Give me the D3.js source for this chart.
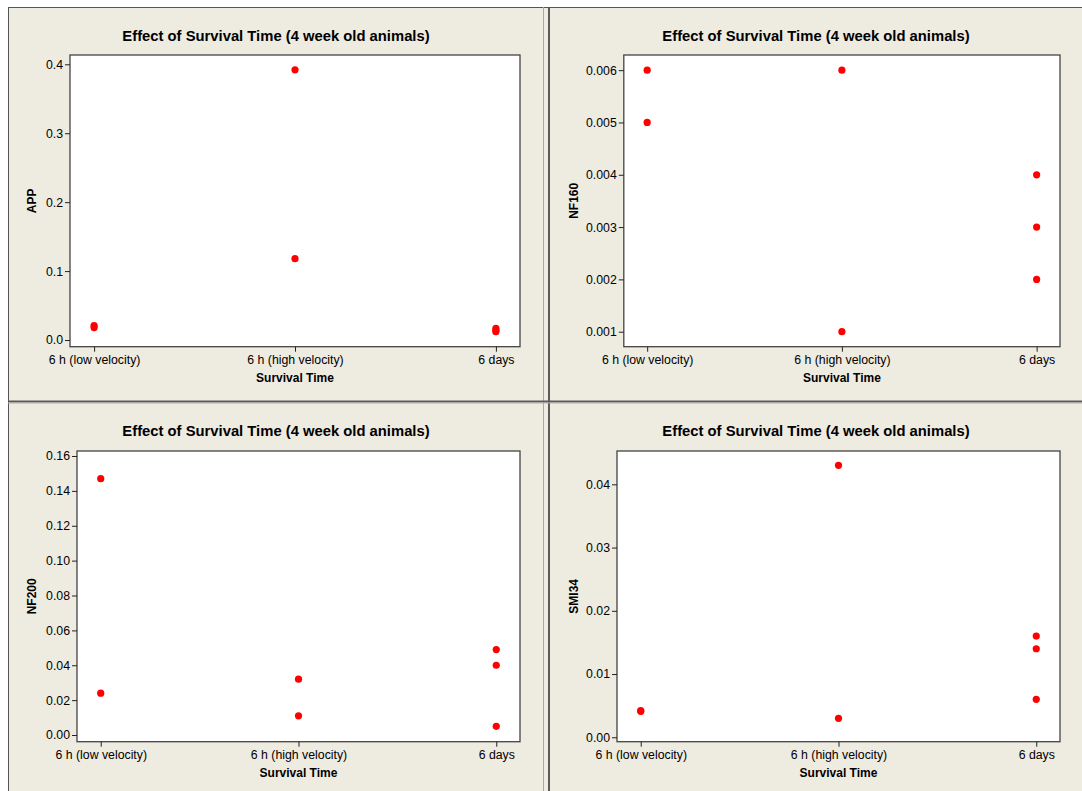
<!DOCTYPE html>
<html>
<head>
<meta charset="utf-8">
<script src="https://cdn.jsdelivr.net/npm/d3@7"></script>
<style>
  html, body { margin: 0; padding: 0; background: #ffffff; }
  svg { display: block; }
  text { font-family: Arial, "Liberation Sans", sans-serif; fill: #000; }
</style>
</head>
<body>
<svg id="chart" width="1082" height="791"></svg>
<script>
// ---------------- DATA ----------------
const categories = ["6 h (low velocity)", "6 h (high velocity)", "6 days"];
const chartTitle = "Effect of Survival Time (4 week old animals)";
const xAxisTitle = "Survival Time";

// values per category: [low velocity, high velocity, 6 days]
const APP   = [[0.021, 0.018], [0.392, 0.118], [0.017, 0.014, 0.012]];
const NF160 = [[0.006, 0.005], [0.006, 0.001], [0.004, 0.003, 0.002]];
const NF200 = [[0.147, 0.024], [0.032, 0.011], [0.049, 0.040, 0.005]];
const SMI34 = [[0.0042, 0.0041], [0.043, 0.003], [0.016, 0.014, 0.006]];

// axis ticks and labels
const appTicks    = [0.0, 0.1, 0.2, 0.3, 0.4];
const appLabels   = ["0.0", "0.1", "0.2", "0.3", "0.4"];
const nf160Ticks  = [0.001, 0.002, 0.003, 0.004, 0.005, 0.006];
const nf160Labels = ["0.001", "0.002", "0.003", "0.004", "0.005", "0.006"];
const nf200Ticks  = [0.00, 0.02, 0.04, 0.06, 0.08, 0.10, 0.12, 0.14, 0.16];
const nf200Labels = ["0.00", "0.02", "0.04", "0.06", "0.08", "0.10", "0.12", "0.14", "0.16"];
const smi34Ticks  = [0.00, 0.01, 0.02, 0.03, 0.04];
const smi34Labels = ["0.00", "0.01", "0.02", "0.03", "0.04"];

// axis ranges (value at bottom and top of each plot frame)
const appDomain   = [-0.0097, 0.4135];
const nf160Domain = [0.000713, 0.00629];
const nf200Domain = [-0.00384, 0.16287];
const smi34Domain = [-0.0007, 0.04527];

// ---------------- LAYOUT ----------------
const svg = d3.select("#chart");
const bg = "#eeebe1";
const frameColor = "#444";

// panel background
svg.append("rect").attr("x", 8).attr("y", 7).attr("width", 1082 - 8).attr("height", 791 - 7).attr("fill", bg);
// panel borders
svg.append("line").attr("x1", 8.5).attr("x2", 8.5).attr("y1", 7).attr("y2", 791).attr("stroke", "#555").attr("stroke-width", 1);
svg.append("line").attr("x1", 8).attr("x2", 1082).attr("y1", 7.5).attr("y2", 7.5).attr("stroke", "#555").attr("stroke-width", 1);
svg.append("line").attr("x1", 543.5).attr("x2", 543.5).attr("y1", 7).attr("y2", 791).attr("stroke", "#a8a8a8").attr("stroke-width", 1);
svg.append("line").attr("x1", 549).attr("x2", 549).attr("y1", 7).attr("y2", 791).attr("stroke", "#5a5a5a").attr("stroke-width", 2);
svg.append("line").attr("x1", 8).attr("x2", 1082).attr("y1", 401.5).attr("y2", 401.5).attr("stroke", "#5a5a5a").attr("stroke-width", 2);
svg.append("line").attr("x1", 8).attr("x2", 1082).attr("y1", 403).attr("y2", 403).attr("stroke", "#b0b0b0").attr("stroke-width", 1);

const panels = [
  { name: "APP",   values: APP,   ticks: appTicks,   labels: appLabels,   domain: appDomain,
    plot: { x0: 70, x1: 520, y0: 55, y1: 346.7 }, titleX: 276, titleY: 41, xTitleY: 382, yTitleX: 36 },
  { name: "NF160", values: NF160, ticks: nf160Ticks, labels: nf160Labels, domain: nf160Domain,
    plot: { x0: 623.8, x1: 1060, y0: 55, y1: 346.7 }, titleX: 816, titleY: 41, xTitleY: 382, yTitleX: 577.5 },
  { name: "NF200", values: NF200, ticks: nf200Ticks, labels: nf200Labels, domain: nf200Domain,
    plot: { x0: 77, x1: 520, y0: 451, y1: 741.7 }, titleX: 276, titleY: 436, xTitleY: 777, yTitleX: 36 },
  { name: "SMI34", values: SMI34, ticks: smi34Ticks, labels: smi34Labels, domain: smi34Domain,
    plot: { x0: 617, x1: 1060, y0: 451, y1: 741.7 }, titleX: 816, titleY: 436, xTitleY: 777, yTitleX: 577.5 }
];

panels.forEach(p => {
  const g = svg.append("g");
  const x = d3.scalePoint().domain(categories).range([p.plot.x0, p.plot.x1]).padding(0.12);
  const y = d3.scaleLinear().domain(p.domain).range([p.plot.y1, p.plot.y0]);

  // plot area
  g.append("rect")
    .attr("x", p.plot.x0).attr("y", p.plot.y0)
    .attr("width", p.plot.x1 - p.plot.x0).attr("height", p.plot.y1 - p.plot.y0)
    .attr("fill", "#fff").attr("stroke", frameColor).attr("stroke-width", 1.3);

  // y axis
  const yAxis = d3.axisLeft(y).tickValues(p.ticks)
    .tickFormat((d, i) => p.labels[i]).tickSize(5).tickPadding(2);
  const ya = g.append("g").attr("transform", `translate(${p.plot.x0},0)`).call(yAxis);
  ya.select(".domain").remove();
  ya.selectAll(".tick line").attr("stroke", "#222");
  ya.selectAll(".tick text").attr("font-size", 12.3).attr("font-family", "Arial, 'Liberation Sans', sans-serif").attr("fill", "#111");

  // x axis
  const xAxis = d3.axisBottom(x).tickSize(5).tickPadding(4);
  const xa = g.append("g").attr("transform", `translate(0,${p.plot.y1})`).call(xAxis);
  xa.select(".domain").remove();
  xa.selectAll(".tick line").attr("stroke", "#222");
  xa.selectAll(".tick text").attr("font-size", 12.3).attr("font-family", "Arial, 'Liberation Sans', sans-serif").attr("fill", "#111");

  // points
  const pts = [];
  p.values.forEach((vals, i) => vals.forEach(v => pts.push({ c: categories[i], v })));
  g.selectAll("circle.pt").data(pts).enter().append("circle")
    .attr("class", "pt")
    .attr("cx", d => x(d.c)).attr("cy", d => y(d.v))
    .attr("r", 3.6).attr("fill", "#ff0000");

  // titles
  g.append("text").attr("x", p.titleX).attr("y", p.titleY)
    .attr("text-anchor", "middle").attr("font-weight", "bold").attr("font-size", 14.8)
    .text(chartTitle);
  g.append("text").attr("x", (p.plot.x0 + p.plot.x1) / 2).attr("y", p.xTitleY)
    .attr("text-anchor", "middle").attr("font-weight", "bold").attr("font-size", 12)
    .text(xAxisTitle);
  g.append("text")
    .attr("transform", `translate(${p.yTitleX},${(p.plot.y0 + p.plot.y1) / 2}) rotate(-90)`)
    .attr("text-anchor", "middle").attr("font-weight", "bold").attr("font-size", 12)
    .text(p.name);
});
</script>
</body>
</html>
